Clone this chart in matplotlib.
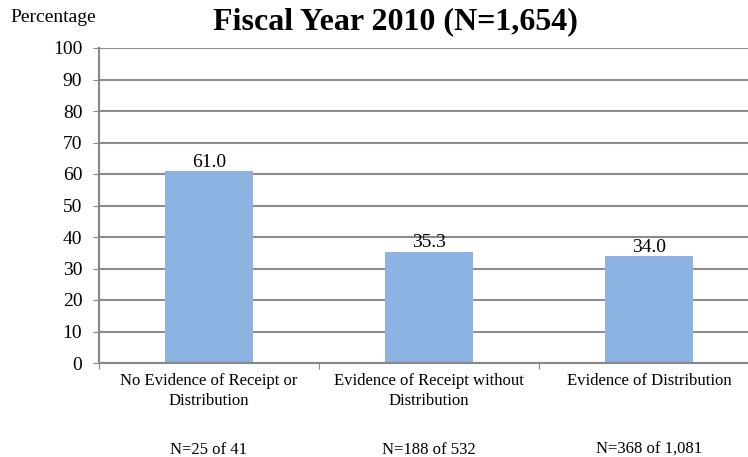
import matplotlib.pyplot as plt
import numpy as np

plt.rcParams['font.family'] = ['Liberation Serif', 'DejaVu Serif']

# data
categories = ['No Evidence of Receipt or\nDistribution',
              'Evidence of Receipt without\nDistribution',
              'Evidence of Distribution']
counts = ['N=25 of 41', 'N=188 of 532', 'N=368 of 1,081']
percentages = [61.0, 35.3, 34.0]

fig = plt.figure(figsize=(7.48, 4.57), dpi=100)
# the plot area runs a little past the right edge, as in the source image
ax = fig.add_axes([99/748, 1 - 363/457, 660/748, 315/457])

x = np.arange(len(categories))
bars = ax.bar(x, percentages, width=0.4, color='#8DB3E2', zorder=2)

for bar, v in zip(bars, percentages):
    ax.text(bar.get_x() + bar.get_width()/2, v + 0.1, f'{v:.1f}',
            ha='center', va='bottom', fontsize=14)

ax.set_xlim(-0.5, len(categories) - 0.5)
ax.set_ylim(0, 100)
ax.set_yticks(np.arange(0, 101, 10))
ax.tick_params(axis='y', labelsize=14, length=4.5, color='#868686', pad=7.5)
ax.yaxis.grid(True, color='#8c8c8c', linewidth=1.5, zorder=0)
ax.set_axisbelow(True)

# category boundary ticks on the x axis
ax.set_xticks(np.arange(-0.5, len(categories)))
ax.set_xticklabels([])
ax.tick_params(axis='x', length=4.5, color='#868686', direction='out')
for i, (cat, n) in enumerate(zip(categories, counts)):
    ax.text(i, -3.3, cat, ha='center', va='top', fontsize=12, linespacing=1.3)
    ax.text(i, -25.0, n, ha='center', va='top', fontsize=12)

for side in ['top', 'right']:
    ax.spines[side].set_visible(False)
for side in ['left', 'bottom']:
    ax.spines[side].set_color('#868686')
    ax.spines[side].set_linewidth(1.5)

fig.text(395/748, 1 - 22/457, 'Fiscal Year 2010 (N=1,654)', ha='center', va='center',
         fontsize=23, fontweight='bold')
fig.text(10/748, 1 - 18/457, 'Percentage', ha='left', va='center', fontsize=14)

fig.savefig('out.png', dpi=100)
